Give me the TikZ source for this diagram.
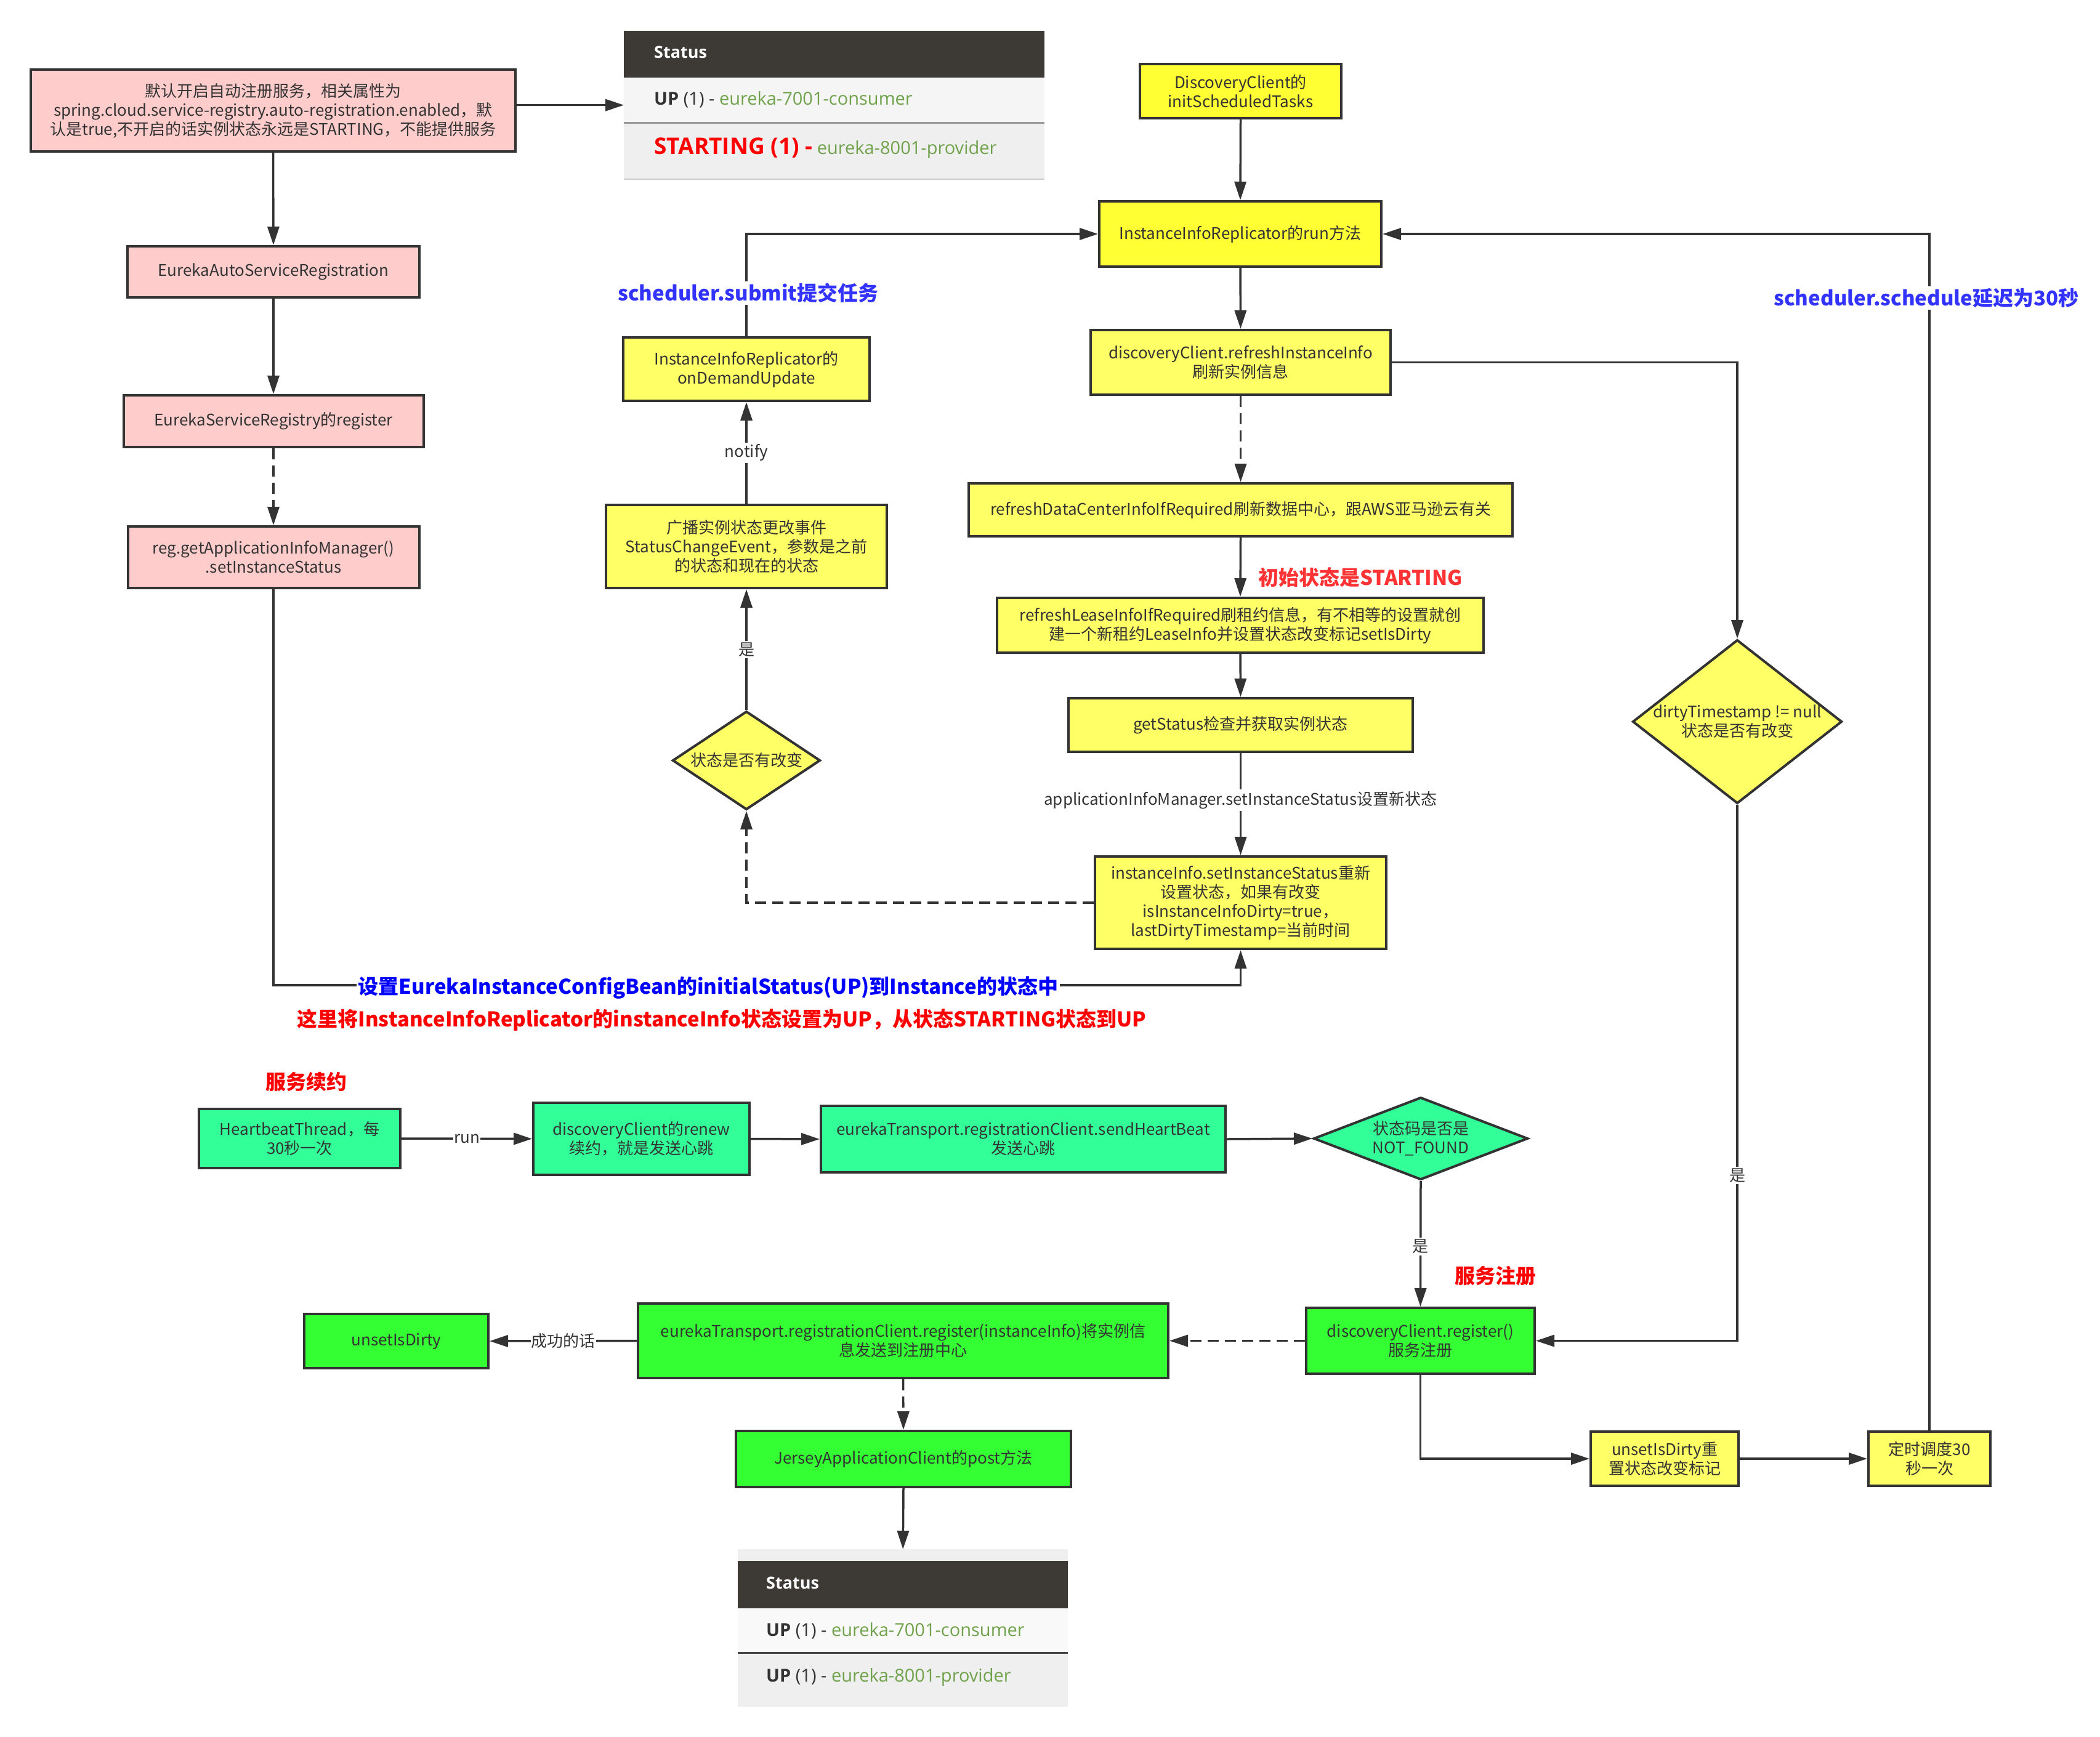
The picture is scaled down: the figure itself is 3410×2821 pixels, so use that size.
\documentclass[tikz,border=0pt]{standalone}
\usepackage{fontspec}
\setmainfont{Noto Sans CJK SC}
\newfontfamily\tblfont{Open Sans}
\usetikzlibrary{arrows.meta,shapes.geometric,calc}
\definecolor{pinkf}{HTML}{FFCCCC}
\definecolor{yelA}{HTML}{FFFF33}
\definecolor{yelB}{HTML}{FFFF66}
\definecolor{mint}{HTML}{33FF99}
\definecolor{grn}{HTML}{33FF33}
\definecolor{bord}{HTML}{333333}
\definecolor{lblue}{HTML}{3333FF}
\definecolor{dblue}{HTML}{0000FF}
\definecolor{lred}{HTML}{FF3333}
\definecolor{hdr}{HTML}{3D3A35}
\definecolor{egreen}{HTML}{6FA24A}
\definecolor{rowA}{HTML}{F5F5F5}
\definecolor{rowB}{HTML}{EFEFEF}
\definecolor{rowC}{HTML}{F9F9F9}
\tikzset{
  box/.style={rectangle, draw=bord, line width=4pt, inner sep=0pt, align=center,
    font=\fontsize{26}{31}\selectfont, text=bord},
  dia/.style={diamond, draw=bord, line width=4pt, inner sep=0pt},
  dtext/.style={align=center, font=\fontsize{26}{31}\selectfont, text=bord},
  conn/.style={draw=bord, line width=3.5pt, -{Triangle[length=30pt,width=19pt]}},
  dconn/.style={conn, dash pattern=on 18pt off 10pt},
  elbl/.style={fill=white, inner sep=3pt, font=\fontsize{26}{31}\selectfont, text=bord},
  bigl/.style={font=\fontsize{33}{38}\selectfont\bfseries, inner sep=3pt},
  tbl/.style={font=\tblfont\fontsize{29}{32}\selectfont, anchor=base west, inner sep=0pt},
}
\begin{document}
\begin{tikzpicture}[x=1pt,y=-1pt]
\useasboundingbox (0,0) rectangle (3410,2821);
\fill[white] (0,0) rectangle (3410,2821);

% ---------- left pink column ----------
\node[box, fill=pinkf, minimum width=787pt, minimum height=133pt] (A) at (443.5,179.5)
  {默认开启自动注册服务，相关属性为\\spring.cloud.service-registry.auto-registration.enabled，默\\认是true,不开启的话实例状态永远是STARTING，不能提供服务};
\node[box, fill=pinkf, minimum width=474pt, minimum height=83pt] (EASR) at (444,441.5) {EurekaAutoServiceRegistration};
\node[box, fill=pinkf, minimum width=487pt, minimum height=84pt] (ESR) at (444,684) {EurekaServiceRegistry的register};
\node[box, fill=pinkf, minimum width=473pt, minimum height=100pt] (REG) at (444,905) {reg.getApplicationInfoManager()\\.setInstanceStatus};

% ---------- top status table ----------
\node[fill=rowB, minimum width=683pt, minimum height=241pt, inner sep=0pt, anchor=north west] (T1) at (1013,50) {};
\fill[hdr] (1013,50) rectangle (1696,126);
\fill[rowA] (1013,126) rectangle (1696,199);
\draw[gray!80, line width=3pt] (1013,199) -- (1696,199);
\draw[gray!40, line width=2pt] (1013,291) -- (1696,291);
\node[tbl, text=white, font=\tblfont\bfseries\fontsize{27}{30}\selectfont] at (1062,95) {Status};
\node[tbl] at (1062,170) {\textcolor{bord}{\textbf{UP} (1) -} \textcolor{egreen}{eureka-7001-consumer}};
\node[tbl] at (1062,250) {\textcolor{red}{\fontsize{37}{40}\selectfont\bfseries STARTING (1) -} \textcolor{egreen}{eureka-8001-provider}};

% ---------- middle yellow column ----------
\node[box, fill=yelB, minimum width=400pt, minimum height=103pt] (ODU) at (1212,599.5) {InstanceInfoReplicator的\\onDemandUpdate};
\node[box, fill=yelB, minimum width=456pt, minimum height=135pt] (BC) at (1212,887.5) {广播实例状态更改事件\\StatusChangeEvent，参数是之前\\的状态和现在的状态};
\node[dia, fill=yelB, minimum width=240pt, minimum height=160pt] (D1) at (1212,1235) {};
\node[dtext] at (D1.center) {状态是否有改变};

% ---------- right yellow column ----------
\node[box, fill=yelA, minimum width=327pt, minimum height=88pt] (DCI) at (2014.5,148) {DiscoveryClient的\\initScheduledTasks};
\node[box, fill=yelA, minimum width=458pt, minimum height=106pt] (RUN) at (2014,380) {InstanceInfoReplicator的run方法};
\node[box, fill=yelB, minimum width=487pt, minimum height=105pt] (RII) at (2014.5,588.5) {discoveryClient.refreshInstanceInfo\\刷新实例信息};
\node[box, fill=yelB, minimum width=883pt, minimum height=86pt] (RDC) at (2014.5,828) {refreshDataCenterInfoIfRequired刷新数据中心，跟AWS亚马逊云有关};
\node[box, fill=yelB, minimum width=790pt, minimum height=89pt] (RLI) at (2014,1015.5) {refreshLeaseInfoIfRequired刷租约信息，有不相等的设置就创\\建一个新租约LeaseInfo并设置状态改变标记setIsDirty};
\node[box, fill=yelB, minimum width=559pt, minimum height=87pt] (GS) at (2014.5,1177.5) {getStatus检查并获取实例状态};
\node[box, fill=yelB, minimum width=473pt, minimum height=150pt] (IIS) at (2014.5,1466) {instanceInfo.setInstanceStatus重新\\设置状态，如果有改变\\isInstanceInfoDirty=true，\\lastDirtyTimestamp=当前时间};
\node[dia, fill=yelB, minimum width=340pt, minimum height=266pt] (D2) at (2821,1172) {};
\node[dtext] at (D2.center) {dirtyTimestamp != null\\状态是否有改变};

% ---------- heartbeat row ----------
\node[box, fill=mint, minimum width=327pt, minimum height=96pt] (HB) at (486.5,1849) {HeartbeatThread，每\\30秒一次};
\node[box, fill=mint, minimum width=351pt, minimum height=117pt] (RENEW) at (1041.5,1849.5) {discoveryClient的renew\\续约，就是发送心跳};
\node[box, fill=mint, minimum width=657pt, minimum height=108pt] (SHB) at (1661.5,1850) {eurekaTransport.registrationClient.sendHeartBeat\\发送心跳};
\node[dia, fill=mint, minimum width=348pt, minimum height=134pt] (D3) at (2307,1849) {};
\node[dtext] at (D3.center) {状态码是否是\\NOT\_FOUND};

% ---------- register row ----------
\node[box, fill=grn, minimum width=371pt, minimum height=107pt] (DREG) at (2306.5,2177.5) {discoveryClient.register()\\服务注册};
\node[box, fill=grn, minimum width=861pt, minimum height=121pt] (BREG) at (1466.5,2177.5) {eurekaTransport.registrationClient.register(instanceInfo)将实例信\\息发送到注册中心};
\node[box, fill=grn, minimum width=299pt, minimum height=88pt] (UID) at (643.5,2178) {unsetIsDirty};
\node[box, fill=grn, minimum width=544pt, minimum height=91pt] (JAC) at (1467,2369.5) {JerseyApplicationClient的post方法};
\node[box, fill=yelB, minimum width=240pt, minimum height=88pt] (UIDR) at (2703,2369) {unsetIsDirty重\\置状态改变标记};
\node[box, fill=yelB, minimum width=198pt, minimum height=88pt] (TIMER) at (3133,2369) {定时调度30\\秒一次};

% ---------- bottom status table ----------
\node[fill=rowB, minimum width=536pt, minimum height=256pt, inner sep=0pt, anchor=north west] (T2) at (1198,2516) {};
\fill[hdr] (1198,2535) rectangle (1734,2612);
\fill[rowC] (1198,2612) rectangle (1734,2684);
\draw[bord!90, line width=3pt] (1198,2684) -- (1734,2684);
\node[tbl, text=white, font=\tblfont\bfseries\fontsize{27}{30}\selectfont] at (1244,2580) {Status};
\node[tbl] at (1244,2657) {\textcolor{bord}{\textbf{UP} (1) -} \textcolor{egreen}{eureka-7001-consumer}};
\node[tbl] at (1244,2731) {\textcolor{bord}{\textbf{UP} (1) -} \textcolor{egreen}{eureka-8001-provider}};

% ---------- connectors ----------
\coordinate (LB) at (0,1600);
\draw[conn] (A.east |- T1.west) -- (T1.west);
\draw[conn] (A.south) -- (EASR.north);
\draw[conn] (EASR.south) -- (ESR.north);
\draw[dconn] (ESR.south) -- (REG.north);
\draw[conn] (REG.south) |- (IIS.south |- LB) -- (IIS.south);
\node[bigl, text=dblue, fill=white] at (1150,1604) {设置EurekaInstanceConfigBean的initialStatus(UP)到Instance的状态中};
\node[bigl, text=red] at (1172,1657) {这里将InstanceInfoReplicator的instanceInfo状态设置为UP，从状态STARTING状态到UP};

\draw[dconn] (IIS.west) -| (D1.south);
\draw[conn] (D1.north) -- node[elbl] {是} (BC.south);
\draw[conn] (BC.north) -- node[elbl] {notify} (ODU.south);
\draw[conn] (ODU.north) |- (RUN.west);
\node[bigl, text=lblue, fill=white] at (1215,476) {scheduler.submit提交任务};

\draw[conn] (DCI.south) -- (RUN.north);
\draw[conn] (RUN.south) -- (RII.north);
\draw[dconn] (RII.south) -- (RDC.north);
\draw[conn] (RDC.south) -- (RLI.north);
\node[bigl, text=lred, anchor=west] at (2040,938) {初始状态是STARTING};
\draw[conn] (RLI.south) -- (GS.north);
\draw[conn] (GS.south) -- node[elbl, pos=0.46] {applicationInfoManager.setInstanceStatus设置新状态} (IIS.north);

\draw[conn] (RII.east) -| (D2.north);
\draw[conn] (D2.south) |- (DREG.east);
\node[elbl] at (2821,1909) {是};

\node[bigl, text=red] at (497,1757) {服务续约};
\draw[conn] (HB.east) -- node[elbl, inner sep=1pt] {run} (RENEW.west);
\draw[conn] (RENEW.east) -- (SHB.west);
\draw[conn] (SHB.east) -- (D3.west);
\draw[conn] (D3.south) -- node[elbl, pos=0.52] {是} (DREG.north);
\node[bigl, text=red] at (2428,2072) {服务注册};

\draw[dconn] (DREG.west) -- (BREG.east);
\draw[conn] (BREG.west) -- node[elbl, inner sep=1pt] {成功的话} (UID.east);
\draw[dconn] (BREG.south) -- (JAC.north);
\draw[conn] (JAC.south) -- (T2.north);
\draw[conn] (DREG.south) |- (UIDR.west);
\draw[conn] (UIDR.east) -- (TIMER.west);
\draw[conn] (TIMER.north) |- (RUN.east);
\node[bigl, text=lblue, fill=white] at (3128,484) {scheduler.schedule延迟为30秒};
\end{tikzpicture}
\end{document}
